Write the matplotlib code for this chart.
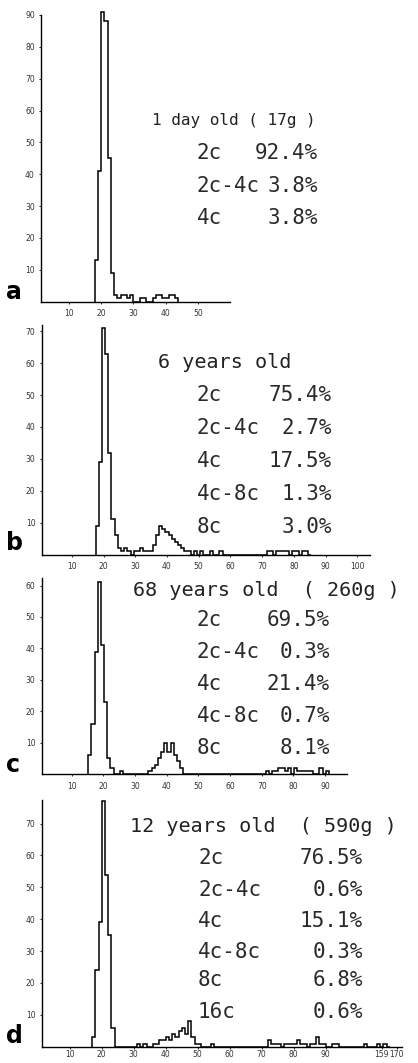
import matplotlib
matplotlib.use('Agg')
import matplotlib.pyplot as plt
import numpy as np

W, H = 418, 1063

# ---- data: histogram counts, bin width 1, first bin edge given separately ----
a_start = 18
a_counts = [13, 41, 91, 88, 45, 9, 2, 1, 2, 2, 1, 2, 0, 0, 1, 1, 0, 0,
            1, 2, 2, 1, 1, 2, 2, 1]

b_start = 17.5
b_counts = [9, 29, 71, 63, 32, 11, 6, 2, 1, 2, 1, 0, 1, 1, 2, 1, 1, 1,
            3, 6, 9, 8, 7, 6, 5, 4, 3, 2, 1, 1, 0, 1, 0, 1, 0, 0, 1, 0, 0, 1,
            0, 0, 0, 0, 0, 0, 0, 0, 0, 0, 0, 0, 0, 0,
            1, 1, 0, 1, 1, 1, 1, 0, 1, 1, 0, 1, 1, 0]

c_start = 15.2
c_counts = [6, 16, 39, 61, 41, 23, 5, 2, 0, 0, 1, 0, 0, 0, 0, 0, 0, 0, 0,
            1, 2, 3, 5, 7, 10, 7, 10, 6, 4, 2,
            0, 0, 0, 0, 0, 0, 0, 0, 0, 0, 0, 0, 0, 0, 0, 0, 0, 0, 0, 0,
            0, 0, 0, 0, 0, 0,
            1, 0, 1, 1, 2, 2, 1, 2, 0, 2, 1, 1, 1, 1, 1, 0, 0, 2, 0, 1]

d_start = 17
d_counts = [3, 24, 39, 77, 54, 35, 6, 0, 0, 0, 0, 0, 0, 0, 1, 0, 1, 0, 0,
            1, 1, 2, 2, 3, 2, 4, 3, 5, 6, 4, 8, 3, 1, 1,
            0, 0, 0, 1, 0, 0, 0, 0, 0, 0, 0, 0, 0, 0, 0, 0, 0, 0, 0, 0, 0,
            2, 1, 1, 1, 0, 1, 1, 1, 1, 2, 1, 1, 0, 1, 1, 3, 1, 1, 0, 0, 1, 1,
            0, 0, 0, 0, 0, 0, 0, 0, 1, 0, 0, 0, 1, 0, 1, 0]

a_title = "1 day old ( 17g )"
a_rows = ["2c", "2c-4c", "4c"]
a_pcts = ["92.4%", "3.8%", "3.8%"]

b_title = "6 years old"
b_rows = ["2c", "2c-4c", "4c", "4c-8c", "8c"]
b_pcts = ["75.4%", "2.7%", "17.5%", "1.3%", "3.0%"]

c_title = "68 years old  ( 260g )"
c_rows = ["2c", "2c-4c", "4c", "4c-8c", "8c"]
c_pcts = ["69.5%", "0.3%", "21.4%", "0.7%", "8.1%"]

d_title = "12 years old  ( 590g )"
d_rows = ["2c", "2c-4c", "4c", "4c-8c", "8c", "16c"]
d_pcts = ["76.5%", "0.6%", "15.1%", "0.3%", "6.8%", "0.6%"]

d_xticks = [10, 20, 30, 40, 50, 60, 70, 80, 90, 107.5, 112.2]
d_xticklabels = ["10", "20", "30", "40", "50", "60", "70", "80", "90", "159", "170"]

# ---- layout (pixels of the 418x1063 image) ----
panels = [
    dict(letter="a", l=41, r=230, y0=301.5, yt=15, xlim=(1.3, 60), ylim=(0, 90),
         yticks=range(10, 91, 10), xticks=range(10, 51, 10), xlabels=None, xpad=4,
         start=a_start, counts=a_counts, title=a_title, rows=a_rows, pcts=a_pcts,
         tx=152, ty=120, tfs=11.5, ry=[153, 186, 218], rx=197, px=318, ly=292),
    dict(letter="b", l=41.7, r=370, y0=554.5, yt=325, xlim=(0.5, 104), ylim=(0, 72),
         yticks=range(10, 71, 10), xticks=range(10, 101, 10), xlabels=None, xpad=4,
         start=b_start, counts=b_counts, title=b_title, rows=b_rows, pcts=b_pcts,
         tx=158, ty=362, tfs=14.5, ry=[395, 428, 461, 494, 527], rx=197, px=332, ly=543),
    dict(letter="c", l=41.7, r=346.7, y0=774, yt=578, xlim=(0.5, 96.8), ylim=(0, 62.4),
         yticks=range(10, 61, 10), xticks=range(10, 91, 10), xlabels=None, xpad=4,
         start=c_start, counts=c_counts, title=c_title, rows=c_rows, pcts=c_pcts,
         tx=133, ty=590, tfs=14.5, ry=[620, 652, 684, 716, 748], rx=197, px=330, ly=765),
    dict(letter="d", l=41.7, r=401.7, y0=1046.7, yt=800, xlim=(1.25, 113.75), ylim=(0, 77.4),
         yticks=range(10, 71, 10), xticks=d_xticks, xlabels=d_xticklabels, xpad=1,
         start=d_start, counts=d_counts, title=d_title, rows=d_rows, pcts=d_pcts,
         tx=130, ty=826, tfs=14.5, ry=[858, 890, 921, 952, 980, 1012], rx=198, px=363, ly=1036),
]

fig = plt.figure(figsize=(W / 100, H / 100), dpi=100)
fig.patch.set_facecolor("white")

for p in panels:
    ax = fig.add_axes([p["l"] / W, 1 - p["y0"] / H, (p["r"] - p["l"]) / W, (p["y0"] - p["yt"]) / H])
    ax.patch.set_alpha(0)
    edges = p["start"] + np.arange(len(p["counts"]) + 1)
    ax.stairs(p["counts"], edges, baseline=0, color="black", lw=1.1, clip_on=False)
    ax.set_xlim(*p["xlim"])
    ax.set_ylim(*p["ylim"])
    for s in ["top", "right"]:
        ax.spines[s].set_visible(False)
    for s in ["left", "bottom"]:
        ax.spines[s].set_linewidth(1.0)
    ax.set_yticks(list(p["yticks"]))
    ax.set_xticks(list(p["xticks"]))
    if p["xlabels"] is not None:
        ax.set_xticklabels(p["xlabels"])
    ax.tick_params(axis="both", labelsize=5.5, colors="#333333", length=1.5, width=0.8)
    ax.tick_params(axis="x", pad=p["xpad"])
    ax.tick_params(axis="y", pad=3)

    fig.text(6 / W, 1 - p["ly"] / H, p["letter"], fontsize=17, fontweight="bold",
             family="DejaVu Sans", va="center", ha="left")
    fig.text(p["tx"] / W, 1 - p["ty"] / H, p["title"], fontsize=p["tfs"], family="DejaVu Sans Mono",
             va="center", ha="left", color="#222222")
    for row, pct, y in zip(p["rows"], p["pcts"], p["ry"]):
        fig.text(p["rx"] / W, 1 - y / H, row, fontsize=15, family="DejaVu Sans Mono",
                 va="center", ha="left", color="#2a2a2a")
        fig.text(p["px"] / W, 1 - y / H, pct, fontsize=15, family="DejaVu Sans Mono",
                 va="center", ha="right", color="#2a2a2a")

fig.savefig("out.png", dpi=100)
